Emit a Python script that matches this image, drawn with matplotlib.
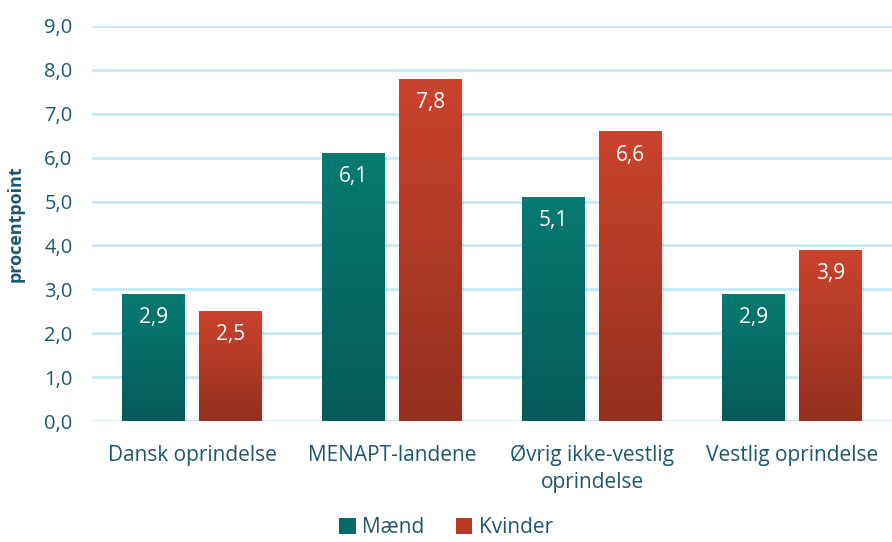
import numpy as np
import matplotlib.pyplot as plt
from matplotlib.colors import LinearSegmentedColormap
from matplotlib.patches import Patch

categories = ["Dansk oprindelse", "MENAPT-landene", "Øvrig ikke-vestlig\noprindelse", "Vestlig oprindelse"]
maend = [2.9, 6.1, 5.1, 2.9]
kvinder = [2.5, 7.8, 6.6, 3.9]
yticks = [0, 1, 2, 3, 4, 5, 6, 7, 8, 9]

plt.rcParams['font.family'] = ['Open Sans', 'DejaVu Sans']
txt = '#1d5670'

fig = plt.figure(figsize=(8.92, 5.42), dpi=100)
ax = fig.add_axes([92/892, 1-421/542, 800/892, 395/542])

teal = LinearSegmentedColormap.from_list('t', ['#055a5a', '#087a72'])
red = LinearSegmentedColormap.from_list('r', ['#93301f', '#cb432d'])
grad = np.linspace(0, 1, 256).reshape(-1, 1)

x = np.arange(len(categories))
w = 0.315
off = 0.1925

def gbars(xs, vals, cmap):
    bars = ax.bar(xs, vals, w, color='none', zorder=3)
    for b in bars:
        bx, by = b.get_x(), b.get_y()
        bw, bh = b.get_width(), b.get_height()
        # faint shadow
        ax.bar(bx + bw/2 + 0.008, bh, bw, bottom=-0.04, color='#000000', alpha=0.08, zorder=2)
        im = ax.imshow(grad, extent=[bx, bx+bw, by, by+bh], origin='lower',
                       cmap=cmap, aspect='auto', zorder=3)
        im.set_clip_path(b)
        ax.text(bx + bw/2, bh - 0.3, f"{bh:.1f}".replace('.', ','), ha='center', va='top',
                color='white', fontsize=15, zorder=4)
    return bars

gbars(x - off, maend, teal)
gbars(x + off, kvinder, red)

ax.set_xlim(-0.5, 3.5)
ax.set_ylim(0, 9)
ax.set_yticks(yticks)
ax.set_yticklabels([f"{v:.1f}".replace('.', ',') for v in yticks], fontsize=14.5, color=txt)
ax.set_xticks(x)
ax.set_xticklabels(categories, fontsize=15, color=txt, linespacing=1.4)
ax.tick_params(length=0, pad=14)
ax.tick_params(axis='x', pad=17)
ax.grid(axis='y', color='#c5eaf7', linewidth=2, zorder=0)
for s in ax.spines.values():
    s.set_visible(False)
ax.set_ylabel('procentpoint', fontsize=13, fontweight='bold', color=txt, labelpad=14)

handles = [Patch(facecolor='#066a66', label='Mænd'), Patch(facecolor='#b83a27', label='Kvinder')]
fig.legend(handles=handles, loc='lower center', bbox_to_anchor=(0.5, -0.028), ncol=2, frameon=False,
           fontsize=15, labelcolor=txt, handlelength=0.8, handleheight=0.8, handletextpad=0.3,
           columnspacing=1.5)

fig.savefig('out.png', dpi=100)
